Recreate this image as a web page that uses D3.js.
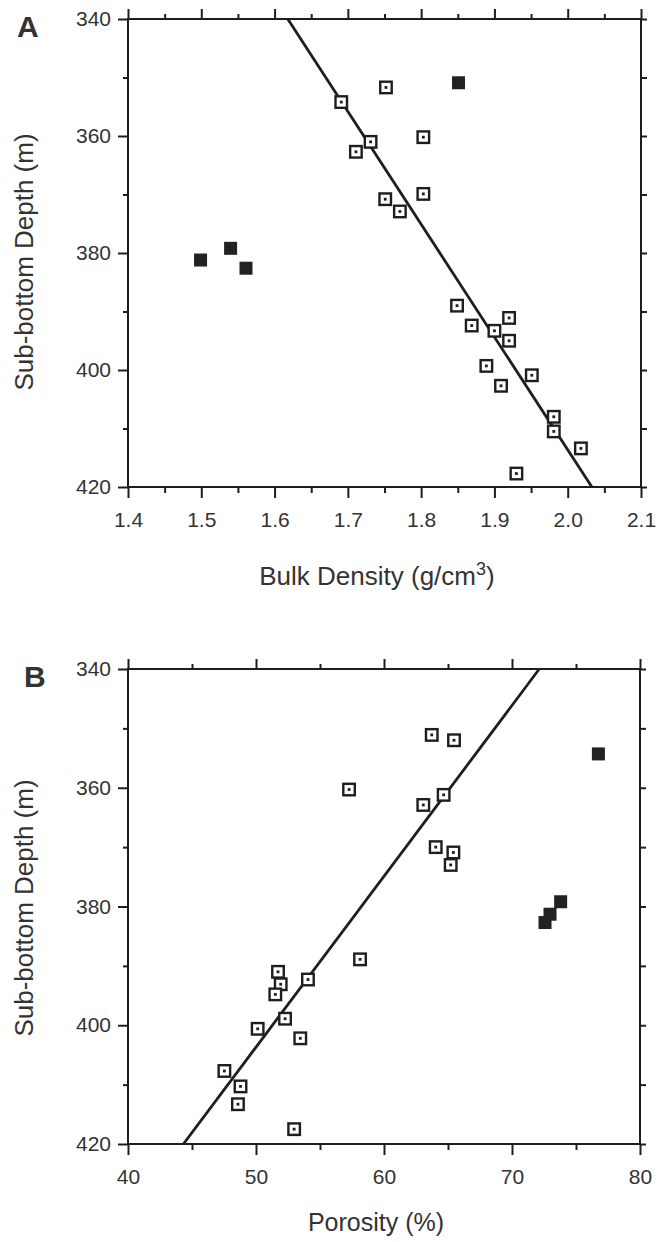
<!DOCTYPE html>
<html>
<head>
<meta charset="utf-8">
<script src="https://cdn.jsdelivr.net/npm/d3@7/dist/d3.min.js"></script>
<style>
  html, body { margin: 0; padding: 0; background: #fff; }
  svg { display: block; }
  text { font-family: "Liberation Sans", Arial, Helvetica, sans-serif; fill: #333; }
</style>
</head>
<body>
<svg id="chart" width="664" height="1242"></svg>
<script>
// ---------- Data ----------
// Panel A: bulk density vs depth
const densityOpen = [1.691, 1.752, 1.731, 1.711, 1.803, 1.751, 1.771, 1.803, 1.849, 1.869,
                     1.900, 1.920, 1.920, 1.889, 1.909, 1.951, 1.981, 1.981, 2.018, 1.930];
const depthDensityOpen = [354.2, 351.7, 361.0, 362.7, 360.2, 370.8, 372.9, 369.9, 389.0, 392.4,
                          393.3, 391.1, 395.0, 399.3, 402.7, 400.9, 408.0, 410.5, 413.4, 417.7];
const densityFilled = [1.851, 1.499, 1.540, 1.561];
const depthDensityFilled = [350.9, 381.2, 379.2, 382.6];
const densityFitX = [1.618, 2.033];
const densityFitDepth = [340, 420];

// Panel B: porosity vs depth
const porosityOpen = [63.73, 65.47, 57.27, 64.66, 63.07, 64.04, 65.42, 65.21, 58.13, 51.72,
                      51.93, 54.06, 51.51, 52.27, 50.13, 53.46, 47.53, 48.79, 48.59, 52.98];
const depthPorosityOpen = [351.1, 352.0, 360.3, 361.2, 362.9, 370.0, 370.9, 373.0, 388.9, 391.0,
                           393.1, 392.3, 394.8, 398.9, 400.6, 402.2, 407.7, 410.3, 413.3, 417.5];
const porosityFilled = [76.75, 73.80, 72.97, 72.58];
const depthPorosityFilled = [354.3, 379.2, 381.3, 382.7];
const porosityFitX = [72.13, 44.33];
const porosityFitDepth = [340, 420];

// Tick labels
const depthTicksMajor = [340, 360, 380, 400, 420];
const depthTicksMinor = [350, 370, 390, 410];
const depthTicksAll = [340, 350, 360, 370, 380, 390, 400, 410, 420];
const densityTicksMajor = [1.4, 1.5, 1.6, 1.7, 1.8, 1.9, 2.0, 2.1];
const densityTicksMinor = [1.45, 1.55, 1.65, 1.75, 1.85, 1.95, 2.05];
const porosityTicksMajor = [40, 50, 60, 70, 80];
const porosityTicksMinor = [45, 55, 65, 75];

// ---------- Drawing ----------
const svg = d3.select("#chart");
const INK = "#1e1e1e";

function panel(cfg) {
  const g = svg.append("g");
  const x = d3.scaleLinear().domain(cfg.xDomain).range([cfg.left, cfg.right]);
  const y = d3.scaleLinear().domain([340, 420]).range([cfg.top, cfg.bottom]);

  function styleAxis(sel) {
    sel.select(".domain").remove();
    sel.selectAll(".tick line").attr("stroke", INK).attr("stroke-width", 2);
    sel.selectAll(".tick text").attr("fill", "#333").style("font-size", "21px")
      .style("font-family", '"Liberation Sans", Arial, sans-serif');
  }

  // frame
  g.append("rect").attr("x", cfg.left).attr("y", cfg.top)
    .attr("width", cfg.right - cfg.left).attr("height", cfg.bottom - cfg.top)
    .attr("fill", "none").attr("stroke", INK).attr("stroke-width", 2);

  // left axis
  g.append("g").attr("transform", `translate(${cfg.left},0)`)
    .call(d3.axisLeft(y).tickValues(depthTicksMajor).tickSize(10).tickPadding(7).tickFormat(d3.format("d")))
    .call(styleAxis);
  g.append("g").attr("transform", `translate(${cfg.left},0)`)
    .call(d3.axisLeft(y).tickValues(depthTicksMinor).tickSize(5).tickFormat(""))
    .call(styleAxis);
  // right axis
  g.append("g").attr("transform", `translate(${cfg.right},0)`)
    .call(d3.axisRight(y).tickValues(depthTicksAll).tickSize(6).tickFormat(""))
    .call(styleAxis);
  // top axis
  g.append("g").attr("transform", `translate(0,${cfg.top})`)
    .call(d3.axisTop(x).tickValues(cfg.xMajor).tickSize(10).tickFormat(""))
    .call(styleAxis);
  g.append("g").attr("transform", `translate(0,${cfg.top})`)
    .call(d3.axisTop(x).tickValues(cfg.xMinor).tickSize(5).tickFormat(""))
    .call(styleAxis);
  // bottom axis
  g.append("g").attr("transform", `translate(0,${cfg.bottom})`)
    .call(d3.axisBottom(x).tickValues(cfg.xMajor).tickSize(11).tickPadding(14).tickFormat(cfg.xFormat))
    .call(styleAxis);
  g.append("g").attr("transform", `translate(0,${cfg.bottom})`)
    .call(d3.axisBottom(x).tickValues(cfg.xMinor).tickSize(6).tickFormat(""))
    .call(styleAxis);

  // fit line
  const line = d3.line().x(d => x(d[0])).y(d => y(d[1]));
  g.append("path").datum(d3.zip(cfg.fitX, cfg.fitDepth))
    .attr("d", line).attr("fill", "none").attr("stroke", INK).attr("stroke-width", 2.8);

  // open squares
  const openData = d3.zip(cfg.openX, cfg.openDepth);
  const s = 11.5;
  g.selectAll(null).data(openData).enter().append("rect")
    .attr("x", d => x(d[0]) - s / 2).attr("y", d => y(d[1]) - s / 2)
    .attr("width", s).attr("height", s)
    .attr("fill", "#fff").attr("stroke", INK).attr("stroke-width", 2.4);
  g.selectAll(null).data(openData).enter().append("rect")
    .attr("x", d => x(d[0]) - 1.4).attr("y", d => y(d[1]) - 1.4)
    .attr("width", 2.8).attr("height", 2.8).attr("fill", INK);

  // filled squares
  const fs = 13;
  g.selectAll(null).data(d3.zip(cfg.filledX, cfg.filledDepth)).enter().append("rect")
    .attr("x", d => x(d[0]) - fs / 2).attr("y", d => y(d[1]) - fs / 2)
    .attr("width", fs).attr("height", fs).attr("fill", "#222");

  // panel letter
  g.append("text").attr("x", cfg.letterX).attr("y", cfg.top + 18)
    .style("font-size", "30px").style("font-weight", "bold").attr("fill", "#222")
    .text(cfg.letter);

  // y title
  g.append("text")
    .attr("transform", `translate(33,${cfg.yTitleY}) rotate(-90)`)
    .attr("text-anchor", "middle").style("font-size", "26px")
    .text("Sub-bottom Depth (m)");

  // x title
  const xt = g.append("text").attr("x", cfg.xTitleX).attr("y", cfg.bottom + cfg.xTitleDy)
    .attr("text-anchor", "middle").style("font-size", cfg.xTitleSize);
  xt.append("tspan").text(cfg.xTitle[0]);
  if (cfg.xTitle.length > 1) {
    xt.append("tspan").attr("dy", -10).style("font-size", "18px").text(cfg.xTitle[1]);
    xt.append("tspan").attr("dy", 10).text(cfg.xTitle[2]);
  }
}

panel({
  letter: "A", letterX: 17,
  left: 128, right: 641, top: 19, bottom: 487,
  xDomain: [1.4, 2.1], xMajor: densityTicksMajor, xMinor: densityTicksMinor,
  xFormat: d3.format(".1f"),
  openX: densityOpen, openDepth: depthDensityOpen,
  filledX: densityFilled, filledDepth: depthDensityFilled,
  fitX: densityFitX, fitDepth: densityFitDepth,
  xTitle: ["Bulk Density (g/cm", "3", ")"], xTitleDy: 98, xTitleX: 377, xTitleSize: "26px",
  yTitleY: 262
});

panel({
  letter: "B", letterX: 24,
  left: 128, right: 640, top: 669, bottom: 1144,
  xDomain: [40, 80], xMajor: porosityTicksMajor, xMinor: porosityTicksMinor,
  xFormat: d3.format("d"),
  openX: porosityOpen, openDepth: depthPorosityOpen,
  filledX: porosityFilled, filledDepth: depthPorosityFilled,
  fitX: porosityFitX, fitDepth: porosityFitDepth,
  xTitle: ["Porosity (%)"], xTitleDy: 87, xTitleX: 376, xTitleSize: "25px",
  yTitleY: 908
});
</script>
</body>
</html>
